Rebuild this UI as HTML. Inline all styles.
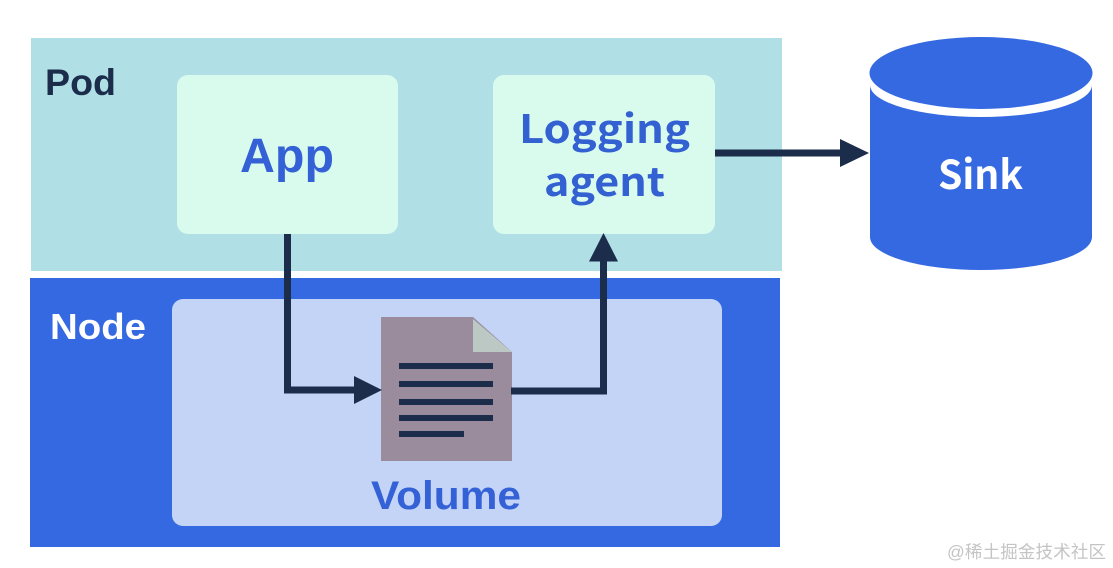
<!DOCTYPE html>
<html><head><meta charset="utf-8">
<style>
html,body{margin:0;padding:0;background:#fff}
svg{display:block}
text{font-family:"Liberation Sans",sans-serif;font-weight:bold}
text.n{font-family:"Noto Sans CJK SC","Liberation Sans",sans-serif;font-weight:bold}
</style></head><body>
<svg width="1113" height="568" viewBox="0 0 1113 568" xmlns="http://www.w3.org/2000/svg">
<rect x="31" y="38" width="751" height="233" fill="#b0e0e6"/>
<rect x="30" y="278" width="750" height="269" fill="#3569e2"/>
<rect x="177" y="75" width="221" height="159" rx="11" fill="#d9fbee"/>
<rect x="493" y="75" width="222" height="159" rx="11" fill="#d9fbee"/>
<rect x="172" y="299" width="550" height="227" rx="11" fill="#c3d4f6"/>
<text x="45" y="95" font-size="37" fill="#1b2d4b" textLength="71" lengthAdjust="spacingAndGlyphs">Pod</text>
<text x="50" y="339" font-size="36" fill="#fff" textLength="96" lengthAdjust="spacingAndGlyphs">Node</text>
<text x="240" y="172" font-size="48" fill="#3461d6" textLength="94" lengthAdjust="spacingAndGlyphs">App</text>
<text class="n" x="519" y="143" font-size="39" fill="#3461d1" textLength="171" lengthAdjust="spacingAndGlyphs">Logging</text>
<text class="n" x="544" y="196" font-size="39" fill="#3461d1" textLength="121" lengthAdjust="spacingAndGlyphs">agent</text>
<text x="371" y="509" font-size="40" fill="#3461d6" textLength="150" lengthAdjust="spacingAndGlyphs">Volume</text>
<path d="M381 317H473L512 352V461H381Z" fill="#9a8c9c"/>
<path d="M473 319L512 352H473Z" fill="#bcc8c4"/>
<g fill="#1b2d4b">
<rect x="399" y="363" width="94" height="6"/>
<rect x="399" y="381" width="94" height="6"/>
<rect x="399" y="399" width="94" height="6"/>
<rect x="399" y="415" width="94" height="6"/>
<rect x="399" y="431" width="65" height="6"/>
</g>
<g fill="none" stroke="#1b2d4b" stroke-width="7">
<path d="M287.500 234V390H356"/>
<path d="M511 391H603.500V258"/>
<path d="M715 153H842"/>
</g>
<g fill="#1b2d4b">
<path d="M354 376L382 390L354 404Z"/>
<path d="M589 261.500L603.500 233L618 261.500Z"/>
<path d="M840 139L869 153L840 167Z"/>
</g>
<path d="M870 85A111 32 0 0 0 1092 85V237A111 33 0 0 1 870 237Z" fill="#3569e2"/>
<ellipse cx="981" cy="73" rx="111.500" ry="36" fill="#3569e2"/>
<text class="n" x="938" y="189" font-size="40" fill="#fff" textLength="85" lengthAdjust="spacingAndGlyphs">Sink</text>
<text x="947" y="558" font-size="17.500" style="font-family:'Liberation Sans','Noto Sans CJK SC',sans-serif;font-weight:normal" fill="#c4c4c4" textLength="159">@稀土掘金技术社区</text>
</svg>
</body></html>
